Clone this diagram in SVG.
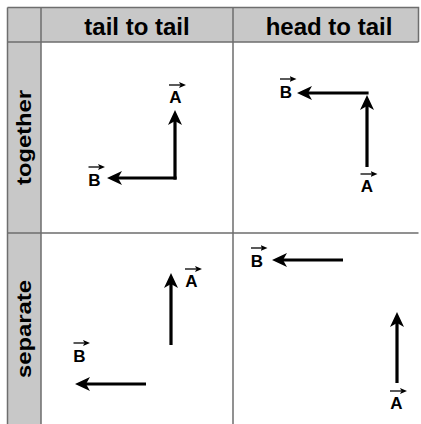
<svg xmlns="http://www.w3.org/2000/svg" width="421" height="424" viewBox="0 0 421 424">
<style>
.hdr{fill:#c8c8c8}
.grid{stroke:#6e6e6e;stroke-width:1.5;fill:none}
.title{font-family:"Liberation Sans",Arial,sans-serif;font-weight:bold;font-size:24px;fill:#000;text-anchor:middle}
.lbl{font-family:"Liberation Sans",Arial,sans-serif;font-weight:bold;font-size:17px;fill:#000;text-anchor:middle}
.vec{stroke:#000;stroke-width:3.2;fill:none;marker-end:url(#big)}
.over{stroke:#000;stroke-width:1.3;fill:none;marker-end:url(#small)}
</style>
<defs>
<marker id="big" markerUnits="userSpaceOnUse" markerWidth="15" markerHeight="14" viewBox="0 0 15 14" refX="4" refY="7" orient="auto">
<path d="M0,0 L15,7 L0,14 L4,7 z" fill="#000"/>
</marker>
<marker id="small" markerUnits="userSpaceOnUse" markerWidth="7" markerHeight="6" viewBox="0 0 7 6" refX="1.5" refY="3" orient="auto">
<path d="M0,0 L7,3 L0,6 L1.5,3 z" fill="#000"/>
</marker>
</defs>
<rect width="421" height="424" fill="#fff"/>
<g id="table">
<rect class="hdr" x="7.5" y="7.5" width="411" height="34.5"/>
<rect class="hdr" x="7.5" y="42" width="33.5" height="382"/>
<path class="grid" d="M7.5,7.5 H418.5 V42 M7.5,7.5 V424 M41,7.5 V424 M233,7.5 V424 M7.5,42 H418.5 M7.5,233 H418.5"/>
<text class="title" x="137" y="35">tail to tail</text>
<text class="title" x="329" y="35">head to tail</text>
<text class="title" x="31" y="137.5" transform="rotate(-90 31 137.5)" textLength="95" lengthAdjust="spacingAndGlyphs" style="font-size:21px">together</text>
<text class="title" x="31" y="329" transform="rotate(-90 31 329)" textLength="98" lengthAdjust="spacingAndGlyphs" style="font-size:21px">separate</text>
</g>
<g id="connectors">
<line class="vec" x1="175" y1="179.6" x2="175" y2="121"/>
<line class="vec" x1="176.6" y1="178" x2="118" y2="178"/>
<line class="vec" x1="367" y1="167" x2="367" y2="106"/>
<line class="vec" x1="368.6" y1="93" x2="308" y2="93"/>
<line class="vec" x1="171" y1="345" x2="171" y2="284"/>
<line class="vec" x1="146" y1="384" x2="86" y2="384"/>
<line class="vec" x1="343" y1="260" x2="283" y2="260"/>
<line class="vec" x1="397" y1="383" x2="397" y2="323"/>
</g>
<g id="label-A-tt-together" transform="translate(175.5,103)"><text class="lbl">A</text><line class="over" x1="-6.5" y1="-18" x2="5" y2="-18"/></g>
<g id="label-B-tt-together" transform="translate(94.5,186)"><text class="lbl">B</text><line class="over" x1="-6" y1="-19" x2="5" y2="-19"/></g>
<g id="label-A-ht-together" transform="translate(367,192)"><text class="lbl">A</text><line class="over" x1="-6.5" y1="-18" x2="5" y2="-18"/></g>
<g id="label-B-ht-together" transform="translate(286,98)"><text class="lbl">B</text><line class="over" x1="-6" y1="-19" x2="5" y2="-19"/></g>
<g id="label-A-tt-separate" transform="translate(191.5,287)"><text class="lbl">A</text><line class="over" x1="-6.5" y1="-18" x2="5" y2="-18"/></g>
<g id="label-B-tt-separate" transform="translate(79.5,362)"><text class="lbl">B</text><line class="over" x1="-6" y1="-19" x2="5" y2="-19"/></g>
<g id="label-B-ht-separate" transform="translate(257,267)"><text class="lbl">B</text><line class="over" x1="-6" y1="-19" x2="5" y2="-19"/></g>
<g id="label-A-ht-separate" transform="translate(396.5,409)"><text class="lbl">A</text><line class="over" x1="-6.5" y1="-18" x2="5" y2="-18"/></g>
</svg>
